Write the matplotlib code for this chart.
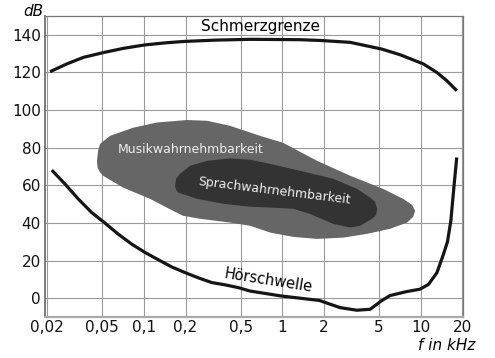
import matplotlib
matplotlib.use("Agg")
import matplotlib.pyplot as plt
from matplotlib.ticker import NullLocator

# frequency in kHz, level in dB
pain_f = [0.021, 0.0277, 0.0365, 0.0513, 0.0711, 0.1008, 0.1464, 0.1984, 0.3363, 0.5852,
          0.937, 1.345, 1.876, 3.09, 5.24, 7.10, 10.46, 13.07, 15.44, 18.23]
pain_db = [120.4, 124.5, 128.0, 130.6, 132.8, 134.6, 135.8, 136.5, 137.2, 137.6,
           137.5, 137.4, 137.0, 136.0, 132.4, 129.4, 124.5, 120.0, 115.6, 110.3]

hear_f = [0.0216, 0.0270, 0.0336, 0.0420, 0.0518, 0.0654, 0.0818, 0.1020, 0.1273, 0.1591,
          0.1984, 0.2475, 0.3095, 0.386, 0.4817, 0.5852, 0.975,
          1.345, 1.85, 2.61, 3.45, 4.31, 5.2, 6.0, 7.9, 9.9, 11.4, 13.1, 14.6, 15.6,
          16.5, 17.4, 18.2]
hear_db = [68.1, 60.6, 52.7, 45.5, 40.2, 34.0, 28.7, 24.3, 20.4, 16.6,
           13.6, 10.8, 8.3, 7.1, 5.6, 3.8, 1.2,
           0.0, -1.2, -5.0, -6.4, -5.9, -1.4, 1.4, 3.5, 4.8, 7.4, 13.6, 23.4, 30.0,
           41.1, 59.7, 74.8]

music_f = [0.0458, 0.0467, 0.0483, 0.0570, 0.0836, 0.1246, 0.2051, 0.2861, 0.4196, 0.6910,
           1.013, 1.784, 3.090, 5.350, 7.463, 8.67, 9.111, 8.81, 7.975, 6.011, 4.100,
           2.750, 1.784, 1.197, 0.8163, 0.5852, 0.4196, 0.2547, 0.1919, 0.1626, 0.1109,
           0.0707, 0.0507, 0.0483, 0.0463]
music_db = [73.0, 78.4, 82.1, 86.3, 90.6, 93.4, 94.7, 94.3, 91.6, 86.3,
            82.6, 73.0, 65.1, 58.1, 52.8, 49.6, 46.4, 43.2, 40.2, 36.9, 34.2,
            32.2, 31.5, 32.6, 34.9, 38.5, 40.2, 42.2, 43.8, 46.4, 52.8,
            58.8, 65.1, 66.8, 69.3]

speech_f = [0.1680, 0.1709, 0.1826, 0.2157, 0.2861, 0.4196, 0.5852, 0.8163, 1.345, 2.328,
            3.471, 4.309, 4.68, 4.842, 4.76, 4.455, 3.648, 3.090, 2.328, 1.588, 1.197,
            0.8163, 0.5852, 0.3735, 0.2423, 0.1767, 0.1709]
speech_db = [59.7, 63.5, 66.1, 70.4, 73.0, 74.3, 73.6, 71.4, 67.7, 63.5,
             58.1, 53.5, 51.2, 47.5, 44.3, 42.2, 38.5, 37.6, 39.5, 44.8, 47.5,
             48.2, 48.6, 50.2, 52.8, 56.2, 57.6]

xticks = [0.02, 0.05, 0.1, 0.2, 0.5, 1, 2, 5, 10, 20]
xlabels = ["0,02", "0,05", "0,1", "0,2", "0,5", "1", "2", "5", "10", "20"]
yticks = [0, 20, 40, 60, 80, 100, 120, 140]

fig = plt.figure(figsize=(4.95, 3.58), dpi=100)
ax = fig.add_axes([45 / 495, 41 / 358, 418 / 495, 301 / 358])
ax.set_xscale("log")
ax.set_xlim(0.0193, 20.2)
ax.set_ylim(-10, 150)

ax.set_xticks(xticks)
ax.set_xticklabels(xlabels)
ax.xaxis.set_minor_locator(NullLocator())
ax.set_yticks(yticks)
ax.tick_params(length=0, labelsize=11, colors="#111111")
ax.tick_params(axis="x", pad=2)
ax.tick_params(axis="y", pad=3)
ax.grid(True, color="#9a9a9a", lw=0.8)
ax.set_axisbelow(True)

for side in ["top", "right"]:
    ax.spines[side].set_color("#777777")
    ax.spines[side].set_linewidth(0.9)
ax.spines["left"].set_color("#666666")
ax.spines["left"].set_linewidth(1.2)
ax.spines["bottom"].set_color("#aaaaaa")
ax.spines["bottom"].set_linewidth(1.6)

ax.fill(music_f, music_db, color="#666666", lw=0, zorder=2)
ax.fill(speech_f, speech_db, color="#333333", lw=0, zorder=3)

ax.plot(pain_f, pain_db, color="#151515", lw=2.3, solid_capstyle="butt", zorder=4)
ax.plot(hear_f, hear_db, color="#151515", lw=2.3, solid_capstyle="butt", zorder=4)

ax.text(0.693, 144.3, "Schmerzgrenze", fontsize=11, ha="center", va="center", zorder=5)
ax.text(0.216, 78.9, "Musikwahrnehmbarkeit", fontsize=9, color="#eeeeee",
        ha="center", va="center", zorder=5)
ax.text(0.873, 57.1, "Sprachwahrnehmbarkeit", fontsize=9, color="#eeeeee",
        ha="center", va="center", rotation=-7, rotation_mode="anchor", zorder=5)
ax.text(0.80, 9.4, "Hörschwelle", fontsize=10.5, ha="center", va="center",
        rotation=-9, rotation_mode="anchor", zorder=5)

fig.text(33 / 495, 1 - 12 / 358, "dB", fontsize=11, style="italic", ha="center", va="center")
fig.text(447 / 495, 1 - 345 / 358, "f in kHz", fontsize=11, style="italic", ha="center", va="center")

fig.savefig("out.png", dpi=100)
